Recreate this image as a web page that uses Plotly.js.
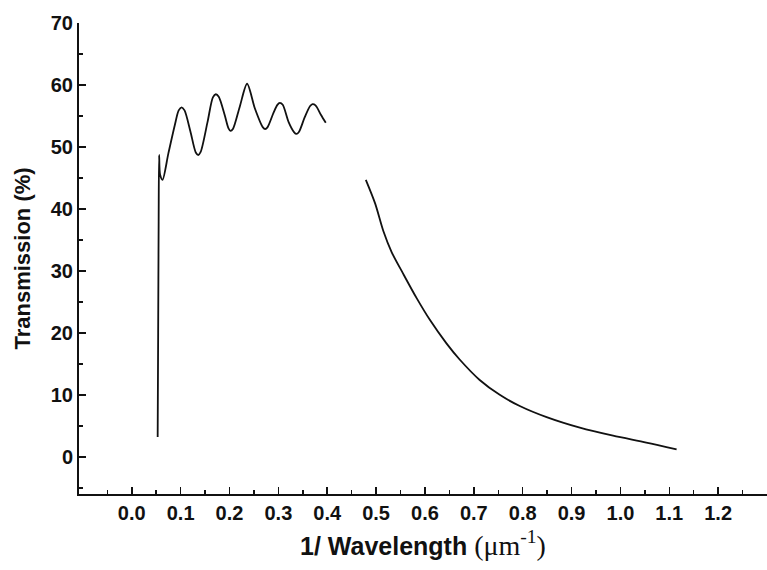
<!DOCTYPE html>
<html>
<head>
<meta charset="utf-8">
<script src="https://cdn.plot.ly/plotly-3.0.1.min.js"></script>
<style>html,body{margin:0;padding:0;background:#fff;}</style>
</head>
<body>
<div id="chart" style="width:767px;height:570px;"></div>
<script>
// Low-wavenumber branch (oscillating)
const waveNumA = [0.053,0.054,0.055,0.056,0.058,0.063,0.075,0.088,0.096,0.102,0.108,0.120,0.131,0.136,0.141,0.155,0.166,0.172,0.178,0.190,0.198,0.202,0.207,0.221,0.236,0.252,0.268,0.273,0.278,0.290,0.298,0.303,0.309,0.321,0.332,0.337,0.342,0.354,0.365,0.370,0.376,0.387,0.397];
const transA   = [3.2,20,38,48.7,45.5,44.7,49,53.5,55.9,56.4,55.9,52.5,49.1,48.7,49.2,54,58.0,58.5,58.1,55.2,53.0,52.6,52.9,56.5,60.2,56.2,53.2,52.9,53.2,55.5,56.8,57.1,56.8,54.0,52.4,52.1,52.4,54.8,56.6,56.9,56.7,55.2,53.9];
// High-wavenumber branch (decaying)
const waveNumB = [0.479, 0.498, 0.515, 0.532, 0.555, 0.583, 0.610, 0.644, 0.671, 0.712, 0.753, 0.794, 0.849, 0.917, 0.985, 1.053, 1.115];
const transB   = [44.7, 40.9, 36.4, 33.0, 29.6, 25.6, 22.1, 18.3, 15.7, 12.4, 10.0, 8.2, 6.4, 4.7, 3.4, 2.3, 1.2];
// Axis tick labels
const xTickVals = [0.0, 0.1, 0.2, 0.3, 0.4, 0.5, 0.6, 0.7, 0.8, 0.9, 1.0, 1.1, 1.2];
const xTickText = ["0.0","0.1","0.2","0.3","0.4","0.5","0.6","0.7","0.8","0.9","1.0","1.1","1.2"];
const yTickVals = [0, 10, 20, 30, 40, 50, 60, 70];

const xMinor = [];
for (let i = -1; i <= 25; i += 2) xMinor.push(+(i * 0.05).toFixed(2));
const yMinor = [];
for (let v = -5; v <= 65; v += 10) yMinor.push(v);

const lineStyle = {color: '#111', width: 1.8, shape: 'spline', smoothing: 0.8};
const traces = [
  {x: waveNumA, y: transA, mode: 'lines', line: lineStyle, hoverinfo: 'skip'},
  {x: waveNumB, y: transB, mode: 'lines', line: lineStyle, hoverinfo: 'skip'}
];

const font = 'Liberation Sans, Arial, sans-serif';
const layout = {
  width: 767, height: 570,
  margin: {l: 79, r: 0, t: 23, b: 76, pad: 0},
  paper_bgcolor: '#fff', plot_bgcolor: '#fff',
  showlegend: false,
  font: {family: font, color: '#111'},
  xaxis: {
    range: [-0.108, 1.3],
    tickmode: 'array', tickvals: xTickVals, ticktext: xTickText,
    ticks: 'inside', ticklen: 7, tickwidth: 1.5, tickcolor: '#111',
    minor: {tickmode: 'array', tickvals: xMinor, ticks: 'inside', ticklen: 4, tickwidth: 1.5, tickcolor: '#111', showgrid: false},
    showline: true, linecolor: '#111', linewidth: 2,
    showgrid: false, zeroline: false,
    tickfont: {family: font, size: 20, color: '#111', weight: 'bold'},
    title: {text: '1/ Wavelength <span style="font-family:Liberation Serif;font-weight:normal;font-size:28px">(μm<sup>-1</sup>)</span>', font: {family: font, size: 25, color: '#111', weight: 'bold'}, standoff: 14}
  },
  yaxis: {
    range: [-6, 70],
    tickmode: 'array', tickvals: yTickVals,
    ticks: 'inside', ticklen: 7, tickwidth: 1.5, tickcolor: '#111',
    minor: {tickmode: 'array', tickvals: yMinor, ticks: 'inside', ticklen: 4, tickwidth: 1.5, tickcolor: '#111', showgrid: false},
    showline: true, linecolor: '#111', linewidth: 2,
    showgrid: false, zeroline: false,
    tickfont: {family: font, size: 20, color: '#111', weight: 'bold'},
    title: {text: 'Transmission (%)', font: {family: font, size: 22, color: '#111', weight: 'bold'}, standoff: 14}
  }
};

Plotly.newPlot('chart', traces, layout, {displayModeBar: false, staticPlot: true});
</script>
</body>
</html>
